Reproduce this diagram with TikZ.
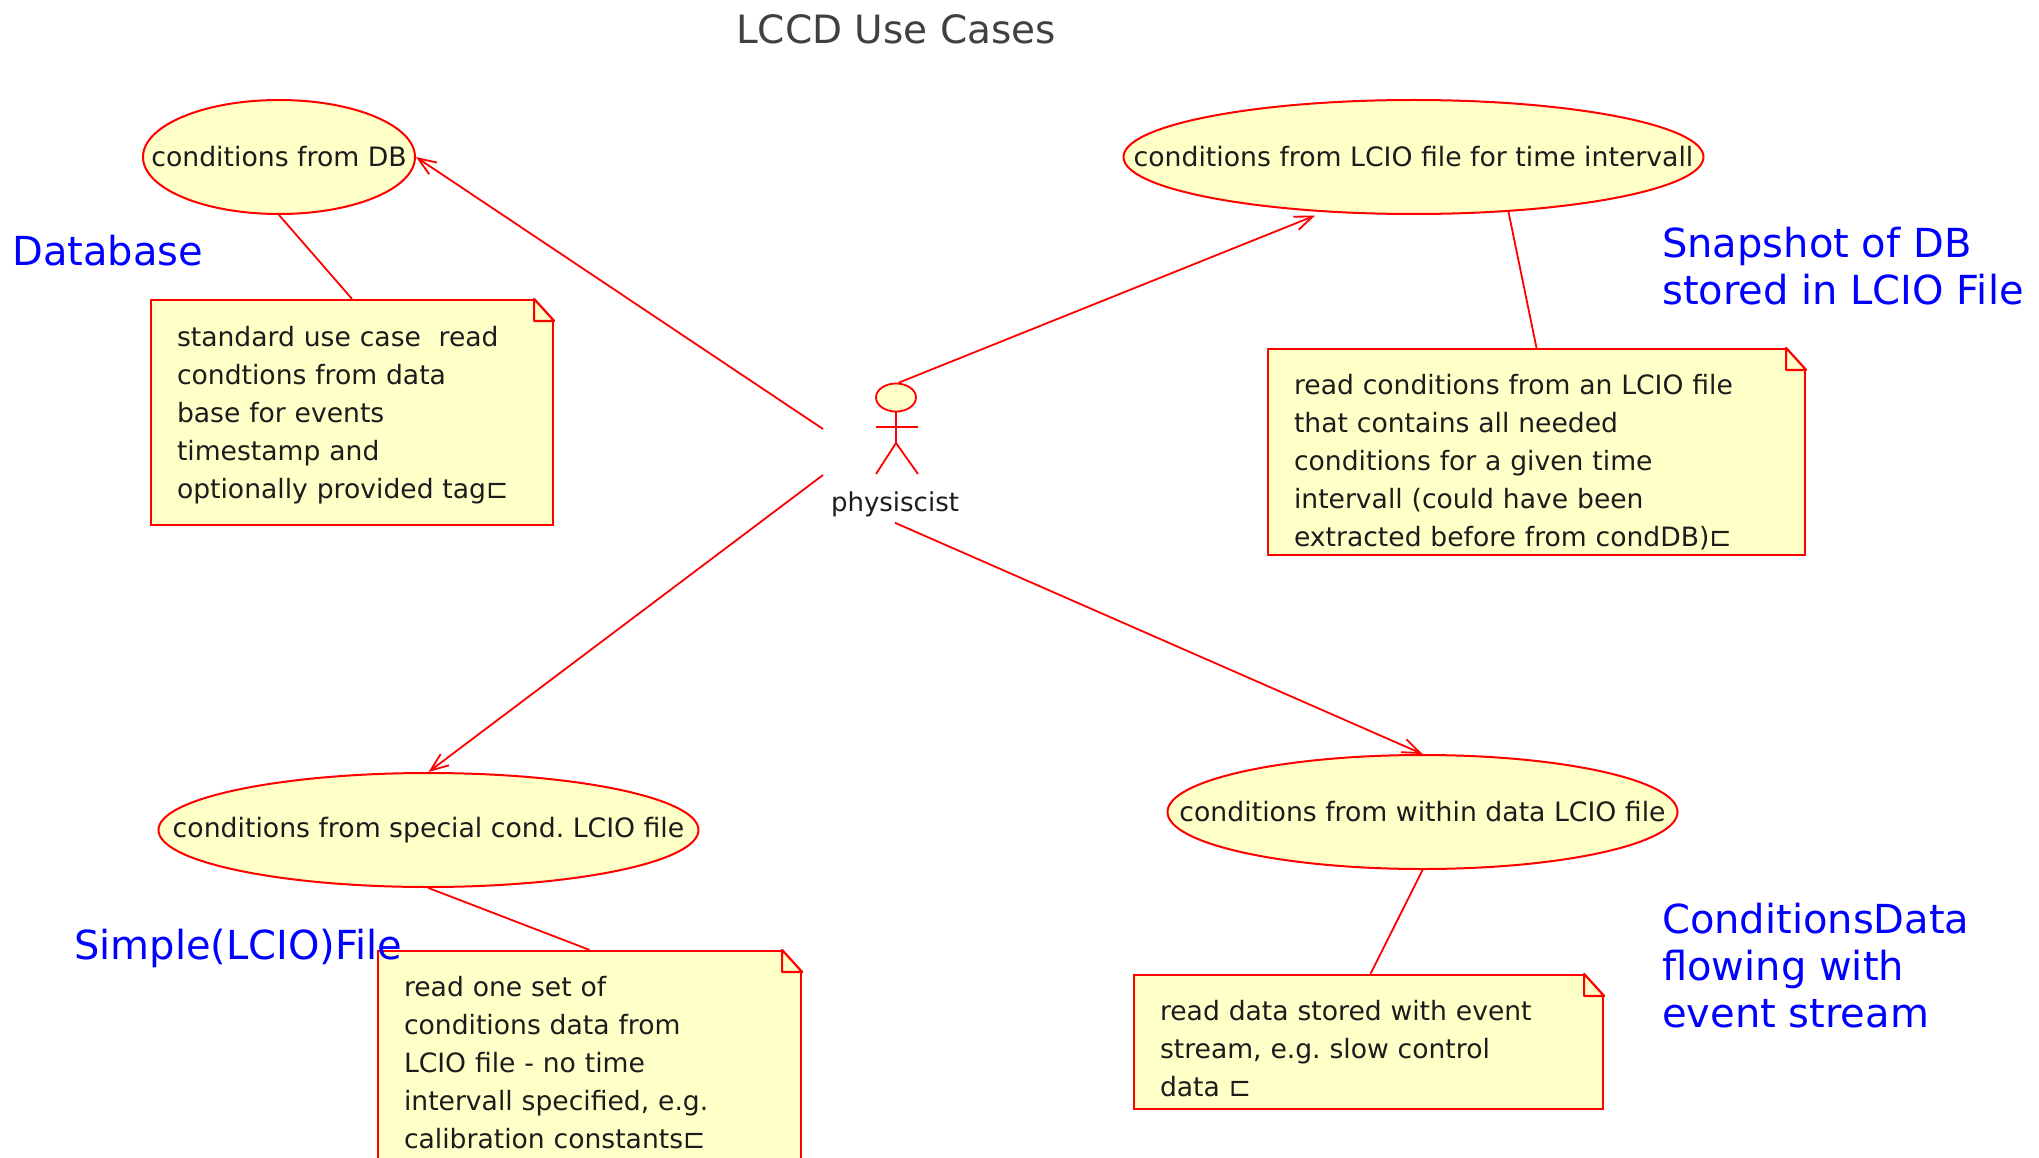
\documentclass[tikz,border=0pt]{standalone}
\usepackage{fontspec}
\setmainfont{DejaVu Sans}
\usetikzlibrary{arrows.meta,positioning,shapes.geometric}
\definecolor{umlred}{RGB}{255,0,0}
\definecolor{umlyellow}{RGB}{255,255,200}
\definecolor{umltext}{RGB}{28,28,28}
\definecolor{umltitle}{RGB}{64,64,64}
\definecolor{remarkblue}{RGB}{0,0,255}
\newcommand{\casetext}[1]{\makebox[0pt]{#1}}
\frenchspacing

\begin{document}
\begin{tikzpicture}[x=1pt,y=-1pt,
  usecase/.style={draw=umlred, fill=umlyellow, line width=2pt, ellipse, inner sep=0pt, minimum height=114pt, text=umltext, font=\fontsize{26.7}{31}\selectfont},
  notebox/.style={draw=umlred, fill=umlyellow, line width=2.2pt, rectangle, inner xsep=26pt, inner ysep=0pt, align=left, text=umltext, font=\fontsize{26.6}{38}\selectfont},
  assoc/.style={draw=umlred, line width=1.8pt},
  navi/.style={assoc, -{Straight Barb[length=18pt,width=14pt]}},
  remark/.style={anchor=west, inner sep=0pt, align=left, text=remarkblue, font=\fontsize{40}{47}\selectfont}]
\path[use as bounding box, clip] (0,0) rectangle (2039,1158);
% Title
\node[text=umltitle, font=\fontsize{39}{46}\selectfont] (title) at (896,29) {LCCD Use Cases};
% Use cases
\node[usecase, minimum width=272pt] (dbcase) at (279,157) {\casetext{conditions from DB}};
\node[usecase, minimum width=580pt] (timecase) at (1413.5,157) {\casetext{conditions from LCIO file for time intervall}};
\node[usecase, minimum width=540pt] (specialcase) at (428.5,830) {\casetext{\raisebox{-2pt}{conditions from special cond. LCIO file}}};
\node[usecase, minimum width=510pt] (datacase) at (1422.5,812) {\casetext{conditions from within data LCIO file}};
% Notes
\node[notebox, text width=350pt, minimum height=225pt] (dbnote) at (352,412.5) {\rule{0pt}{25pt}standard use case\ \ read\\condtions from data\\base for events\\timestamp and\\optionally provided tag⊏};
\node[notebox, text width=485pt, minimum height=206pt] (timenote) at (1536.5,452) {\rule{0pt}{41pt}read conditions from an LCIO file\\that contains all needed\\conditions for a given time\\intervall (could have been\\extracted before from condDB)⊏};
\node[notebox, text width=371pt, minimum height=224pt] (specialnote) at (589.5,1063) {read one set of\\conditions data from\\LCIO file - no time\\intervall specified, e.g.\\calibration constants⊏};
\node[notebox, text width=417pt, minimum height=134pt] (datanote) at (1368.5,1042) {\rule{0pt}{33pt}read data stored with event\\stream, e.g. slow control\\data ⊏};
% Folded corners
\foreach \n in {dbnote,timenote,specialnote,datanote} {
  \fill[white] ([xshift=-20pt]\n.north east) -- ([xshift=1.5pt,yshift=1.5pt]\n.north east) -- ([yshift=-22pt]\n.north east) -- cycle;
  \draw[umlred, line width=2.2pt, line join=round] ([xshift=-20pt]\n.north east) -- ([yshift=-22pt]\n.north east) -- ([xshift=-20pt,yshift=-22pt]\n.north east) -- cycle;
}
% Actor
\node[draw=umlred, fill=umlyellow, line width=1.8pt, ellipse, inner sep=0pt, minimum width=40pt, minimum height=28pt] (head) at (896,397.5) {};
\coordinate (hip) at (896,443);
\coordinate (armleft) at (876,427);
\coordinate (armright) at (918,427);
\coordinate (footleft) at (876,474);
\coordinate (footright) at (918,474);
\draw[assoc] (head) -- (hip);
\draw[assoc] (armleft) -- (armright);
\draw[assoc] (footleft) -- (hip) -- (footright);
\node[text=umltext, inner ysep=6pt, font=\fontsize{26}{31}\selectfont] (actor) at (895,504) {physiscist};
% Associations
\coordinate (leftup) at (823,429);
\coordinate (leftdown) at (823,475);
\draw[navi] (leftup) -- (dbcase.east);
\draw[navi] (head.80) -- ([yshift=-4pt]timecase.-151);
\draw[navi] (leftdown) -- (specialcase.north);
\draw[navi] (actor.south) -- (datacase.north);
% Note links
\draw[assoc] (dbcase.south) -- (dbnote.north);
\draw[assoc] (timecase.-30) -- (timenote.north);
\draw[assoc] (specialcase.south) -- (specialnote.north);
\draw[assoc] (datacase.south) -- ([xshift=2pt]datanote.north);
% Remarks
\node[remark] (dbremark) at (12,251) {Database};
\node[remark] (timeremark) at (1662,266) {Snapshot of DB\\stored in LCIO File};
\node[remark] (specialremark) at (74,948) {Simple(LCIO)File};
\node[remark] (dataremark) at (1662,966) {ConditionsData\\flowing with\\event stream};
\end{tikzpicture}
\end{document}
